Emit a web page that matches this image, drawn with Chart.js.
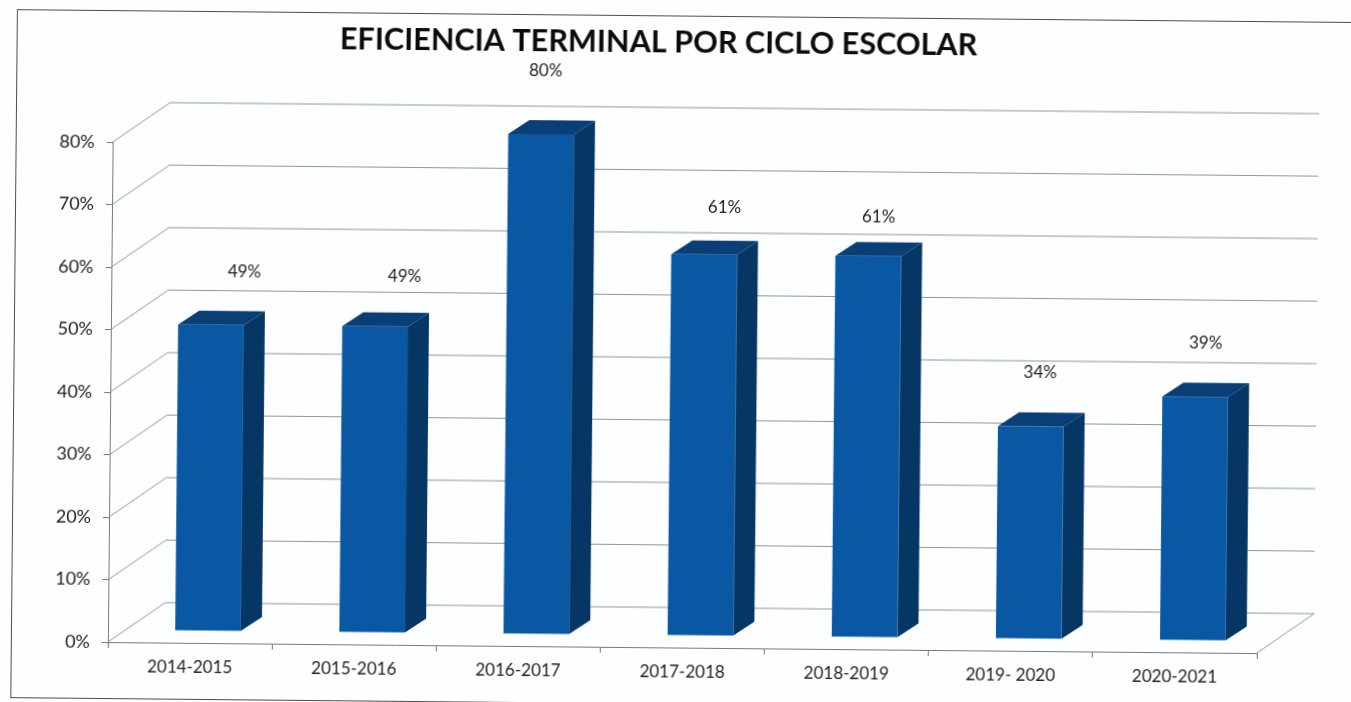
<!DOCTYPE html>
<html lang="es">
<head>
<meta charset="utf-8">
<title>Eficiencia terminal por ciclo escolar</title>
<script src="https://cdn.jsdelivr.net/npm/chart.js@4"></script>
<style>
  html, body { margin: 0; height: 100%; overflow: hidden; background: #fcfeff; }
  /* the source is a slightly crooked, slightly soft scan */
  #sheet { position: absolute; left: 0; top: 0; width: 1351px; height: 702px; transform-origin: 0 0; transform: rotate(0.55deg); filter: blur(0.4px); }
  #frame { position: absolute; left: 17px; top: 9px; width: 1400px; height: 687px; border: 1px solid #4d4d4d; }
  #chart { position: absolute; left: -30px; top: 0; }
</style>
</head>
<body>
<div id="sheet">
  <div id="frame"></div>
  <canvas id="chart" width="1378" height="702"></canvas>
</div>
<script>
const titleText = "EFICIENCIA TERMINAL POR CICLO ESCOLAR";
const cycles = ["2014-2015", "2015-2016", "2016-2017", "2017-2018", "2018-2019", "2019- 2020", "2020-2021"];
const efficiency = [49, 49, 80, 61, 61, 34, 39];
const yTicks = [0, 10, 20, 30, 40, 50, 60, 70, 80];

const fontName = "Lato, 'Noto Sans', sans-serif";

// --- fake 3D: depth of the box and of the bars ---
const wallDepth = { x: 57, y: -40 };
const barShift = { x: 18, y: -12 };
const barDepth = { x: 21, y: -14 };
// hand placed labels, relative to the top of each bar
const labelOffsets = [[51, -65], [47, -62], [22, -76], [38, -59], [28, -51], [27, -66], [28, -66]];

function poly(ctx, pts, color) {
  ctx.fillStyle = color;
  ctx.beginPath();
  pts.forEach((p, i) => (i ? ctx.lineTo(p[0], p[1]) : ctx.moveTo(p[0], p[1])));
  ctx.closePath();
  ctx.fill();
}

const box3d = {
  id: "box3d",
  // side wall, back wall lines and the floor edge
  beforeDatasetsDraw(chart) {
    const { ctx, chartArea: area, scales: { y } } = chart;
    ctx.save();
    ctx.lineWidth = 1;
    ctx.strokeStyle = "#8d9a9a";
    yTicks.forEach(t => {
      const py = y.getPixelForValue(t);
      ctx.beginPath();
      ctx.moveTo(area.left, py);
      ctx.lineTo(area.left + wallDepth.x, py + wallDepth.y);
      ctx.lineTo(area.right + wallDepth.x, py + wallDepth.y);
      ctx.stroke();
    });
    ctx.beginPath();
    ctx.moveTo(area.right, area.bottom);
    ctx.lineTo(area.right + wallDepth.x, area.bottom + wallDepth.y);
    ctx.stroke();
    ctx.restore();
  },
  // top and side of each bar, then move the native bar to the middle of the floor
  beforeDatasetDraw(chart, args) {
    const { ctx } = chart;
    ctx.save();
    ctx.translate(barShift.x, barShift.y);
    args.meta.data.forEach(bar => {
      const l = bar.x - bar.width / 2, r = bar.x + bar.width / 2;
      const dx = barDepth.x, dy = barDepth.y;
      poly(ctx, [[r, bar.y], [r + dx, bar.y + dy], [r + dx, bar.base + dy], [r, bar.base]], "#053664");
      poly(ctx, [[l, bar.y], [l + dx, bar.y + dy], [r + dx, bar.y + dy], [r, bar.y]], "#0a3e76");
    });
  },
  afterDatasetDraw(chart) {
    chart.ctx.restore();
  },
  afterDatasetsDraw(chart) {
    const { ctx } = chart;
    ctx.save();
    ctx.fillStyle = "#222";
    ctx.font = "17px " + fontName;
    ctx.textAlign = "center";
    ctx.textBaseline = "middle";
    chart.getDatasetMeta(0).data.forEach((bar, i) => {
      ctx.fillText(efficiency[i] + "%", bar.x + labelOffsets[i][0], bar.y + labelOffsets[i][1]);
    });
    ctx.restore();
  }
};

new Chart(document.getElementById("chart"), {
  type: "bar",
  data: {
    labels: cycles,
    datasets: [{
      data: efficiency,
      backgroundColor: "#0a58a3",
      borderWidth: 0,
      barPercentage: 0.4,
      categoryPercentage: 1,
      clip: false
    }]
  },
  plugins: [box3d],
  options: {
    responsive: false,
    animation: false,
    layout: { padding: { left: 85, right: 85, top: 17.4, bottom: 11 } },
    plugins: {
      legend: { display: false },
      tooltip: { enabled: false },
      title: {
        display: true,
        text: titleText,
        color: "#0c0c0c",
        font: { size: 30.6, weight: "bold", family: fontName },
        padding: { top: 0, bottom: 86.9 }
      }
    },
    scales: {
      x: {
        afterFit(scale) { scale.height = 50; },
        border: { color: "#737b7b" },
        grid: { drawOnChartArea: false, tickLength: 6, color: "#737b7b" },
        ticks: { color: "#222", padding: 8, maxRotation: 0, font: { size: 17, family: fontName } }
      },
      y: {
        min: 0,
        max: 80,
        afterFit(scale) { scale.width = 59; },
        afterBuildTicks(scale) { scale.ticks = yTicks.map(value => ({ value })); },
        border: { color: "#737b7b" },
        grid: { drawOnChartArea: false, tickLength: 6, color: "#737b7b" },
        ticks: { color: "#222", padding: 12, font: { size: 18, family: fontName }, callback: v => v + "%" }
      }
    }
  }
});
</script>
</body>
</html>
